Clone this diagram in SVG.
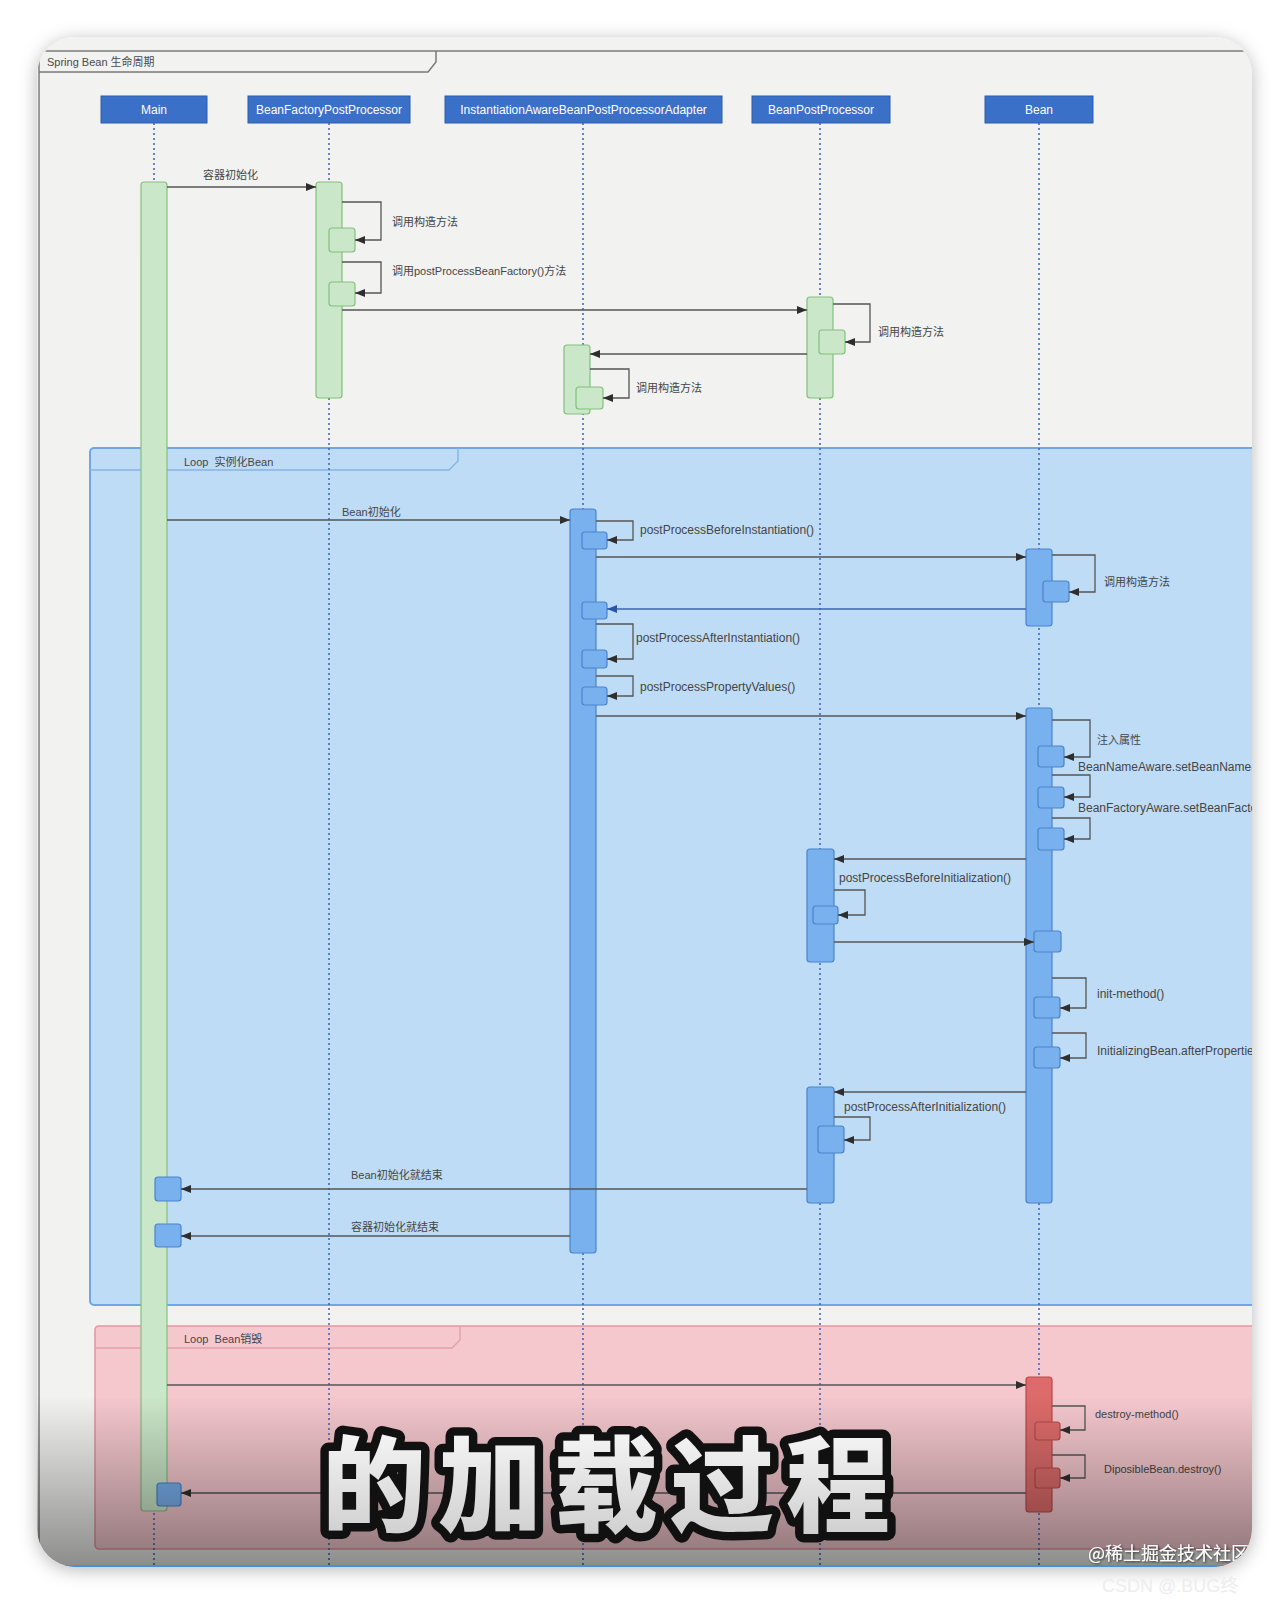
<svg xmlns="http://www.w3.org/2000/svg" width="1288" height="1604" viewBox="0 0 1288 1604">
<defs>
<style>
.hdr{fill:#3b70c9;stroke:#2d5cab;stroke-width:1}
.hdrt{font-family:"Liberation Sans",Arial,sans-serif;font-size:12px;fill:#ffffff;text-anchor:middle}
.life{stroke:#3b62b5;stroke-width:1.5;stroke-dasharray:2 3;fill:none}
.actg{fill:#cbe7c9;stroke:#84c07e;stroke-width:1.2}
.actb{fill:#79b1ee;stroke:#4a84cc;stroke-width:1.2}
.actr{fill:#de6b6b;stroke:#b84a4a;stroke-width:1.2}
.msg{fill:none;stroke:#555555;stroke-width:1.3;marker-end:url(#ah)}
.ret{fill:none;stroke:#3a64b0;stroke-width:1.3;marker-end:url(#ahb)}
.lbl{font-family:"Liberation Sans",Arial,"Noto Sans CJK SC",sans-serif;font-size:11px;fill:#454545}
.lt{font-size:12px}
.frm{fill:none;stroke:#7a7a7a;stroke-width:1.5}
</style>
<marker id="ah" markerUnits="userSpaceOnUse" markerWidth="11" markerHeight="8" refX="10" refY="4" orient="auto"><path d="M0,0 L10,4 L0,8 z" fill="#2e2e2e"/></marker>
<marker id="ahb" markerUnits="userSpaceOnUse" markerWidth="11" markerHeight="8" refX="10" refY="4" orient="auto"><path d="M0,0 L10,4 L0,8 z" fill="#2a56a8"/></marker>
<clipPath id="fc"><rect x="37" y="37" width="1215" height="1530" rx="38"/></clipPath>
<filter id="sh" x="-5%" y="-5%" width="110%" height="110%"><feDropShadow dx="0" dy="3" stdDeviation="9" flood-color="#000" flood-opacity="0.28"/></filter>
<filter id="ts" x="-10%" y="-30%" width="120%" height="160%"><feDropShadow dx="1" dy="1" stdDeviation="1.2" flood-color="#000" flood-opacity="0.7"/></filter>
<linearGradient id="dark" x1="0" y1="0" x2="0" y2="1"><stop offset="0" stop-color="#000" stop-opacity="0"/><stop offset="1" stop-color="#000" stop-opacity="0.42"/></linearGradient>
<linearGradient id="subg" x1="0" y1="0" x2="0" y2="1"><stop offset="0" stop-color="#ffffff"/><stop offset="1" stop-color="#c9c9c9"/></linearGradient>
</defs>
<rect x="0" y="0" width="1288" height="1604" fill="#ffffff"/>
<rect x="37" y="37" width="1215" height="1530" rx="38" fill="#f2f2f1" filter="url(#sh)"/>
<g clip-path="url(#fc)">
<rect x="37" y="37" width="1215" height="1530" fill="#f2f2f1"/>
<g id="frame">
<line class="frm" x1="39" y1="51" x2="1260" y2="51"/>
<line class="frm" x1="39" y1="51" x2="39" y2="1570"/>
<path class="frm" d="M39,72 L428,72 L436,62 L436,51"/>
<text x="47" y="66" font-family="Liberation Sans,Arial,Noto Sans CJK SC,sans-serif" font-size="11" fill="#4a4a4a">Spring Bean 生命周期</text>
</g>
<g id="loop1">
<rect x="90" y="448" width="1200" height="857" rx="4" fill="#bfdcf7" stroke="#6ea6e6" stroke-width="2"/>
<path d="M90,470 L449,470 L458,461 L458,448" fill="none" stroke="#86b4e2" stroke-width="1.4"/>
<text x="184" y="466" class="lbl">Loop&#160;&#160;实例化Bean</text>
</g>
<g id="loop2">
<rect x="95" y="1326" width="1200" height="223" rx="4" fill="#f5c8ce" stroke="#e597a1" stroke-width="1.6"/>
<path d="M95,1348 L452,1348 L460,1340 L460,1326" fill="none" stroke="#e3a0a8" stroke-width="1.4"/>
<text x="184" y="1343" class="lbl">Loop&#160;&#160;Bean销毁</text>
</g>
<g id="main">
<line class="life" x1="154" y1="123" x2="154" y2="1570"/>
<rect class="hdr" x="101" y="96" width="106" height="27"/>
<text class="hdrt" x="154" y="114">Main</text>
<rect class="actg" x="141" y="182" width="26" height="1329" rx="3"/>
<rect class="actb" x="155" y="1177" width="26" height="24" rx="3"/>
<rect class="actb" x="155" y="1224" width="26" height="23" rx="3"/>
<rect class="actb" x="157" y="1483" width="24" height="23" rx="3"/>
</g>
<g id="bfpp">
<line class="life" x1="329" y1="123" x2="329" y2="1570"/>
<rect class="hdr" x="248" y="96" width="162" height="27"/>
<text class="hdrt" x="329" y="114">BeanFactoryPostProcessor</text>
<rect class="actg" x="316" y="182" width="26" height="216" rx="3"/>
<rect class="actg" x="329" y="228" width="26" height="24" rx="3"/>
<rect class="actg" x="329" y="282" width="26" height="24" rx="3"/>
</g>
<g id="iabppa">
<line class="life" x1="583" y1="123" x2="583" y2="1570"/>
<rect class="hdr" x="445" y="96" width="277" height="27"/>
<text class="hdrt" x="583.5" y="114">InstantiationAwareBeanPostProcessorAdapter</text>
<rect class="actg" x="564" y="345" width="26" height="69" rx="3"/>
<rect class="actg" x="576" y="387" width="27" height="22" rx="3"/>
<rect class="actb" x="570" y="509" width="26" height="744" rx="3"/>
<rect class="actb" x="582" y="532" width="25" height="17" rx="3"/>
<rect class="actb" x="582" y="602" width="25" height="17" rx="3"/>
<rect class="actb" x="582" y="650" width="25" height="18" rx="3"/>
<rect class="actb" x="582" y="687" width="25" height="18" rx="3"/>
</g>
<g id="bpp">
<line class="life" x1="820" y1="123" x2="820" y2="1570"/>
<rect class="hdr" x="752" y="96" width="138" height="27"/>
<text class="hdrt" x="821" y="114">BeanPostProcessor</text>
<rect class="actg" x="807" y="297" width="26" height="101" rx="3"/>
<rect class="actg" x="819" y="330" width="26" height="24" rx="3"/>
<rect class="actb" x="807" y="849" width="27" height="113" rx="3"/>
<rect class="actb" x="813" y="906" width="25" height="18" rx="3"/>
<rect class="actb" x="807" y="1087" width="27" height="116" rx="3"/>
<rect class="actb" x="818" y="1126" width="26" height="27" rx="3"/>
</g>
<g id="bean">
<line class="life" x1="1039" y1="123" x2="1039" y2="1570"/>
<rect class="hdr" x="985" y="96" width="108" height="27"/>
<text class="hdrt" x="1039" y="114">Bean</text>
<rect class="actb" x="1026" y="549" width="26" height="77" rx="3"/>
<rect class="actb" x="1043" y="581" width="26" height="21" rx="3"/>
<rect class="actb" x="1026" y="708" width="26" height="495" rx="3"/>
<rect class="actb" x="1038" y="746" width="26" height="21" rx="3"/>
<rect class="actb" x="1038" y="787" width="26" height="21" rx="3"/>
<rect class="actb" x="1038" y="828" width="26" height="22" rx="3"/>
<rect class="actb" x="1034" y="931" width="27" height="21" rx="3"/>
<rect class="actb" x="1034" y="997" width="26" height="21" rx="3"/>
<rect class="actb" x="1034" y="1047" width="26" height="21" rx="3"/>
<rect class="actr" x="1026" y="1377" width="26" height="135" rx="3"/>
<rect class="actr" x="1035" y="1422" width="25" height="18" rx="3"/>
<rect class="actr" x="1035" y="1468" width="25" height="20" rx="3"/>
</g>
<g id="connectors">
<path class="msg" d="M167,187 H316"/>
<text class="lbl" x="203" y="179">容器初始化</text>
<path class="msg" d="M342,202 H381 V240 H355"/>
<text class="lbl" x="392" y="226">调用构造方法</text>
<path class="msg" d="M342,262 H381 V293 H355"/>
<text class="lbl" x="392" y="275" font-size="11.5">调用postProcessBeanFactory()方法</text>
<path class="msg" d="M342,310 H807"/>
<path class="msg" d="M833,304 H870 V342 H845"/>
<text class="lbl" x="878" y="336">调用构造方法</text>
<path class="msg" d="M807,354 H590"/>
<path class="msg" d="M590,369 H629 V398 H603"/>
<text class="lbl" x="636" y="392">调用构造方法</text>
<path class="msg" d="M167,520 H570"/>
<text class="lbl" x="342" y="516">Bean初始化</text>
<path class="msg" d="M596,521 H633 V540 H607"/>
<text class="lbl lt" x="640" y="534">postProcessBeforeInstantiation()</text>
<path class="msg" d="M596,557 H1026"/>
<path class="msg" d="M1052,555 H1095 V592 H1069"/>
<text class="lbl" x="1104" y="586">调用构造方法</text>
<path class="ret" d="M1026,609 H607"/>
<path class="msg" d="M596,624 H633 V659 H607"/>
<text class="lbl lt" x="636" y="642">postProcessAfterInstantiation()</text>
<path class="msg" d="M596,676 H633 V696 H607"/>
<text class="lbl lt" x="640" y="691">postProcessPropertyValues()</text>
<path class="msg" d="M596,716 H1026"/>
<path class="msg" d="M1052,720 H1090 V757 H1064"/>
<text class="lbl" x="1097" y="744">注入属性</text>
<path class="msg" d="M1052,775 H1090 V797 H1064"/>
<text class="lbl lt" x="1078" y="771">BeanNameAware.setBeanName()</text>
<path class="msg" d="M1052,818 H1090 V839 H1064"/>
<text class="lbl lt" x="1078" y="812">BeanFactoryAware.setBeanFactory()</text>
<path class="msg" d="M1026,859 H834"/>
<text class="lbl lt" x="839" y="882">postProcessBeforeInitialization()</text>
<path class="msg" d="M834,890 H865 V915 H838"/>
<path class="msg" d="M834,942 H1034"/>
<path class="msg" d="M1052,978 H1086 V1008 H1060"/>
<text class="lbl lt" x="1097" y="998">init-method()</text>
<path class="msg" d="M1052,1033 H1086 V1058 H1060"/>
<text class="lbl lt" x="1097" y="1055">InitializingBean.afterPropertiesSet()</text>
<path class="msg" d="M1026,1092 H834"/>
<text class="lbl lt" x="844" y="1111">postProcessAfterInitialization()</text>
<path class="msg" d="M834,1117 H870 V1140 H844"/>
<path class="msg" d="M807,1189 H181"/>
<text class="lbl" x="351" y="1179">Bean初始化就结束</text>
<path class="msg" d="M570,1236 H181"/>
<text class="lbl" x="351" y="1231">容器初始化就结束</text>
<path class="msg" d="M167,1385 H1026"/>
<path class="msg" d="M1052,1406 H1085 V1430 H1060"/>
<text class="lbl" x="1095" y="1418">destroy-method()</text>
<path class="msg" d="M1052,1455 H1085 V1478 H1060"/>
<text class="lbl" x="1104" y="1473">DiposibleBean.destroy()</text>
<path class="msg" d="M1026,1493 H181"/>
</g>
<rect x="37" y="1395" width="1215" height="172" fill="url(#dark)"/>
<line x1="37" y1="1566" x2="1252" y2="1566" stroke="#4a8fd6" stroke-width="2"/>
<text x="612" y="1524" text-anchor="middle" font-family="Noto Sans CJK SC,sans-serif" font-weight="900" font-size="104" letter-spacing="12" fill="url(#subg)" stroke="#111111" stroke-width="17" stroke-linejoin="round" paint-order="stroke">的加载过程</text>
<text x="1088" y="1560" font-family="Noto Sans CJK SC,sans-serif" font-size="18" fill="#ffffff" filter="url(#ts)">@稀土掘金技术社区</text>
</g>
<text x="1102" y="1592" font-family="Liberation Sans,Noto Sans CJK SC,sans-serif" font-size="18" fill="#ededed">CSDN @.BUG终</text>
</svg>
